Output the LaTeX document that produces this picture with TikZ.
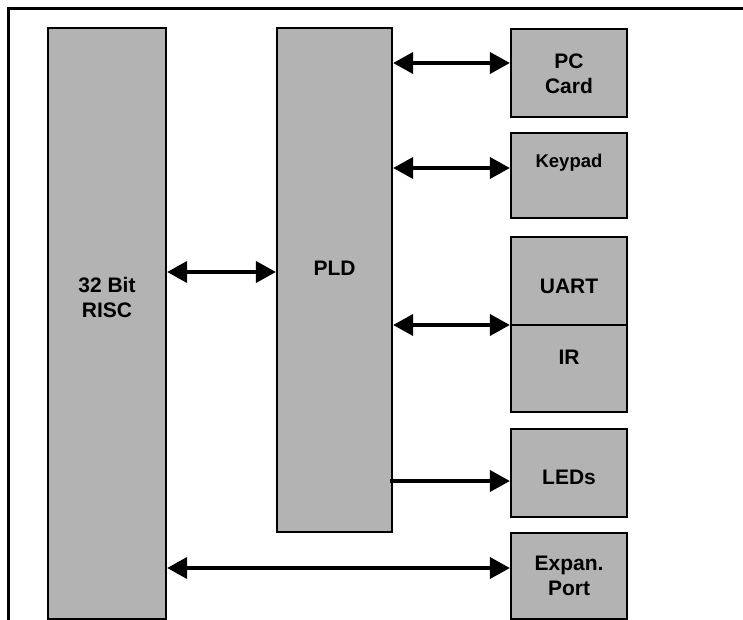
\documentclass[tikz,border=0pt]{standalone}
\usepackage{fontspec}
\setmainfont{Liberation Sans}
\usetikzlibrary{arrows.meta}
\definecolor{boxgray}{RGB}{179,179,179}
\begin{document}
\begin{tikzpicture}[x=1pt,y=-1pt,
  box/.style={draw=black, fill=boxgray, line width=2.2pt, rectangle, inner sep=0pt},
  txt/.style={font=\bfseries\fontsize{21}{25}\selectfont, align=center, inner sep=0pt},
  conn/.style={line width=3.8pt},
  biarrow/.style={conn, {Triangle[length=20pt,width=21pt]}-{Triangle[length=20pt,width=21pt]}},
  onearrow/.style={conn, -{Triangle[length=20pt,width=21pt]}}]
\useasboundingbox (0,0) rectangle (743,620);
\clip (0,0) rectangle (743,620);
% frame
\draw[line width=3pt] (8,625) -- (8,8.5) -- (750,8.5);
% boxes
\node[box, minimum width=118pt, minimum height=591pt] (risc) at (107,323.5) {};
\node[box, minimum width=115pt, minimum height=504pt] (pld) at (334.5,280) {};
\node[box, minimum width=116pt, minimum height=88pt] (pc) at (569,73) {};
\node[box, minimum width=116pt, minimum height=85pt] (key) at (569,175.5) {};
\node[box, minimum width=116pt, minimum height=88pt] (uart) at (569,281) {};
\node[box, minimum width=116pt, minimum height=87pt] (ir) at (569,368.5) {};
\node[box, minimum width=116pt, minimum height=88pt] (led) at (569,473) {};
\node[box, minimum width=116pt, minimum height=86pt] (exp) at (569,576) {};
% texts
\node[txt] (risct) at (107,297) {32 Bit\\RISC};
\node[txt] (pldt) at (334.5,268) {PLD};
\node[txt] (pct) at (569,74) {PC\\Card};
\node[txt, font=\bfseries\fontsize{18.5}{22}\selectfont] (keyt) at (569,163) {Keypad};
\node[txt] (uartt) at (569,286) {UART};
\node[txt] (irt) at (569,357) {IR};
\node[txt] (ledt) at (569,477) {LEDs};
\node[txt] (expt) at (569,576) {Expan.\\Port};
% connectors
\draw[biarrow] (risc.east |- 0,272) -- (pld.west |- 0,272);
\draw[biarrow] (pld.east |- 0,63) -- (pc.west |- 0,63);
\draw[biarrow] (pld.east |- 0,168) -- (key.west |- 0,168);
\coordinate (irjoin) at (ir.west |- 0,325);
\draw[biarrow] (pld.east |- irjoin) -- (irjoin);
\coordinate (ledstart) at ([xshift=-3pt]pld.east |- 0,481);
\draw[onearrow] (ledstart) -- (led.west |- 0,481);
\draw[biarrow] (risc.east |- 0,568) -- (exp.west |- 0,568);
\end{tikzpicture}
\end{document}
